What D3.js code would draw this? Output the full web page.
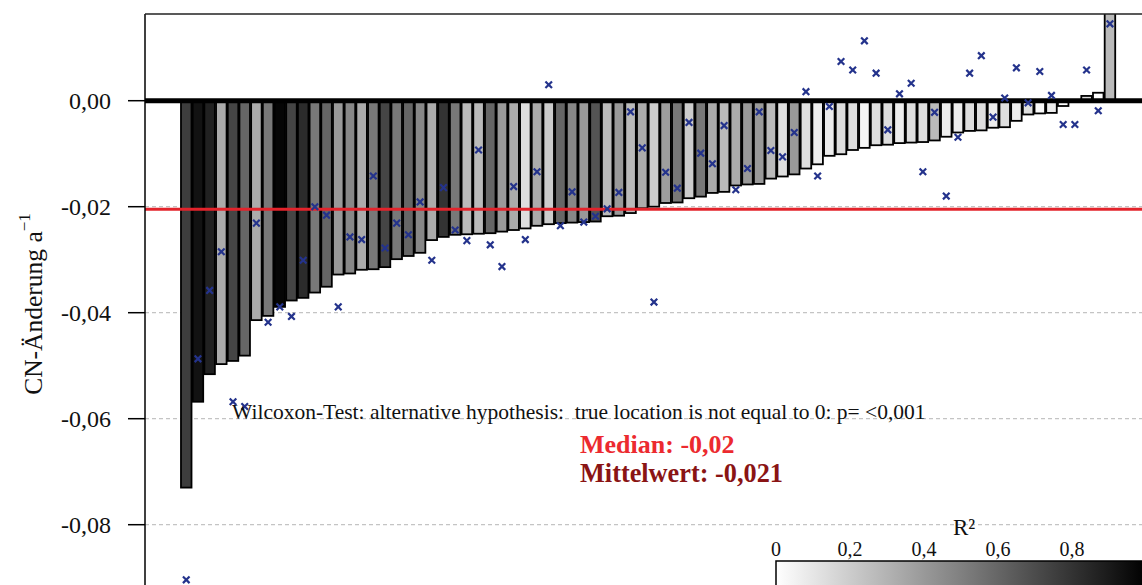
<!DOCTYPE html>
<html>
<head>
<meta charset="utf-8">
<script src="https://cdn.jsdelivr.net/npm/d3@7"></script>
<style>
  html, body { margin: 0; padding: 0; background: #fff; }
  svg { display: block; font-family: "Liberation Serif", "Times New Roman", serif; }
</style>
</head>
<body>
<div id="chart"></div>
<script>
// CN change per site, sorted ascending
const cnChange = [
  -0.0730, -0.0568, -0.0516, -0.0497, -0.0491, -0.0481, -0.0414, -0.0406, -0.0389, -0.0377,
  -0.0372, -0.0362, -0.0351, -0.0328, -0.0326, -0.0319, -0.0318, -0.0314, -0.0299, -0.0293,
  -0.0287, -0.0263, -0.0257, -0.0253, -0.0252, -0.0251, -0.0250, -0.0247, -0.0244, -0.0241,
  -0.0236, -0.0233, -0.0231, -0.0230, -0.0229, -0.0228, -0.0218, -0.0217, -0.0212, -0.0203,
  -0.0200, -0.0193, -0.0192, -0.0184, -0.0181, -0.0174, -0.0172, -0.0160, -0.0158, -0.0157,
  -0.0147, -0.0143, -0.0139, -0.0128, -0.0120, -0.0104, -0.0101, -0.0093, -0.0089, -0.0084,
  -0.0083, -0.0080, -0.0079, -0.0078, -0.0075, -0.0068, -0.0060, -0.0057, -0.0056, -0.0051,
  -0.0050, -0.0038, -0.0026, -0.0024, -0.0023, -0.0010, -0.0002, 0.0009, 0.0015, 0.0180
];

// R² of each site's regression (bar shade)
const rSquared = [
  0.76, 0.93, 0.87, 0.33, 0.73, 0.60, 0.33, 0.53, 0.98, 0.73,
  0.83, 0.53, 0.60, 0.40, 0.47, 0.33, 0.53, 0.73, 0.53, 0.60,
  0.47, 0.33, 0.80, 0.53, 0.27, 0.27, 0.60, 0.40, 0.33, 0.13,
  0.33, 0.20, 0.60, 0.47, 0.40, 0.67, 0.27, 0.40, 0.27, 0.33,
  0.20, 0.38, 0.53, 0.20, 0.53, 0.33, 0.27, 0.33, 0.40, 0.40,
  0.27, 0.13, 0.40, 0.13, 0.07, 0.07, 0.13, 0.13, 0.04, 0.13,
  0.13, 0.07, 0.13, 0.13, 0.27, 0.07, 0.07, 0.13, 0.13, 0.07,
  0.13, 0.07, 0.13, 0.02, 0.07, 0.00, 0.00, 0.13, 0.00, 0.27
];

// blue crosses
const crossValues = [
  -0.0904, -0.0487, -0.0358, -0.0285, -0.0568, -0.0577, -0.0231, -0.0418, -0.0389, -0.0407,
  -0.0301, -0.0200, -0.0216, -0.0389, -0.0257, -0.0262, -0.0142, -0.0278, -0.0231, -0.0253,
  -0.0191, -0.0301, -0.0164, -0.0244, -0.0264, -0.0093, -0.0272, -0.0313, -0.0162, -0.0262,
  -0.0134, 0.0030, -0.0236, -0.0172, -0.0229, -0.0218, -0.0204, -0.0173, -0.0021, -0.0089,
  -0.0380, -0.0135, -0.0165, -0.0041, -0.0099, -0.0119, -0.0047, -0.0168, -0.0128, -0.0021,
  -0.0094, -0.0106, -0.0060, 0.0017, -0.0142, -0.0011, 0.0074, 0.0058, 0.0113, 0.0052,
  -0.0055, 0.0013, 0.0033, -0.0134, -0.0022, -0.0180, -0.0069, 0.0052, 0.0085, -0.0031,
  0.0005, 0.0062, -0.0004, 0.0055, 0.0010, -0.0045, -0.0045, 0.0058, -0.0019, 0.0145
];

const yTicks = [0, -0.02, -0.04, -0.06, -0.08];
const legendTicks = [0, 0.2, 0.4, 0.6, 0.8];
const medianValue = -0.0205;
const medianLabel = 'Median: -0,02';
const meanLabel = 'Mittelwert: -0,021';
const testLabel = 'Wilcoxon-Test: alternative hypothesis:  true location is not equal to 0: p= <0,001';

const width = 1142;
const height = 585;
const plot = { left: 145, top: 14 };

const fmt = v => v.toFixed(2).replace('.', ',');
const fmtLegend = v => (v === 0 ? '0' : v.toFixed(1).replace('.', ','));

const svg = d3.select('#chart')
  .append('svg')
  .attr('width', width)
  .attr('height', height);

const x = d3.scaleBand()
  .domain(d3.range(cnChange.length))
  .range([180.4, 1115.8])
  .paddingInner(0.1)
  .paddingOuter(0.05);

const y = d3.scaleLinear()
  .domain([-0.08, 0])
  .range([524.7, 100.7]);

const shade = d3.scaleLinear()
  .domain([0, 1])
  .range(['#ffffff', '#000000']);

svg.append('clipPath')
  .attr('id', 'plot-clip')
  .append('rect')
  .attr('x', plot.left)
  .attr('y', plot.top)
  .attr('width', width - plot.left + 10)
  .attr('height', height - plot.top + 10);

const g = svg.append('g').attr('clip-path', 'url(#plot-clip)');

// grid
g.selectAll('line.grid')
  .data(yTicks.filter(d => d !== 0))
  .enter()
  .append('line')
  .attr('class', 'grid')
  .attr('x1', plot.left)
  .attr('x2', width)
  .attr('y1', d => y(d))
  .attr('y2', d => y(d))
  .attr('stroke', '#c4c4c4')
  .attr('stroke-width', 1.2)
  .attr('stroke-dasharray', '4,3');

// bars
g.selectAll('rect.bar')
  .data(cnChange)
  .enter()
  .append('rect')
  .attr('class', 'bar')
  .attr('x', (d, i) => x(i))
  .attr('width', x.bandwidth())
  .attr('y', d => y(Math.max(0, d)))
  .attr('height', d => Math.abs(y(d) - y(0)))
  .attr('fill', (d, i) => shade(rSquared[i]))
  .attr('stroke', '#000')
  .attr('stroke-width', 1.8);

// zero line
g.append('line')
  .attr('x1', plot.left)
  .attr('x2', width)
  .attr('y1', y(0))
  .attr('y2', y(0))
  .attr('stroke', '#000')
  .attr('stroke-width', 5);

// median line
g.append('line')
  .attr('x1', plot.left)
  .attr('x2', width)
  .attr('y1', y(medianValue))
  .attr('y2', y(medianValue))
  .attr('stroke', '#e3232b')
  .attr('stroke-width', 3);

// crosses
const cross = d3.symbol().type(d3.symbolX).size(30);
g.selectAll('path.cross')
  .data(crossValues)
  .enter()
  .append('path')
  .attr('class', 'cross')
  .attr('d', cross)
  .attr('transform', (d, i) => `translate(${x(i) + x.bandwidth() / 2},${y(d)})`)
  .attr('fill', 'none')
  .attr('stroke', '#24338c')
  .attr('stroke-width', 2.2);

// frame
svg.append('line')
  .attr('x1', plot.left).attr('x2', plot.left)
  .attr('y1', plot.top).attr('y2', height)
  .attr('stroke', '#000').attr('stroke-width', 1.5);
svg.append('line')
  .attr('x1', plot.left).attr('x2', width)
  .attr('y1', plot.top).attr('y2', plot.top)
  .attr('stroke', '#222').attr('stroke-width', 1.5);

// y axis
const yAxis = svg.append('g');
yAxis.selectAll('line.tick')
  .data(yTicks)
  .enter()
  .append('line')
  .attr('x1', 128)
  .attr('x2', plot.left)
  .attr('y1', d => y(d))
  .attr('y2', d => y(d))
  .attr('stroke', '#000')
  .attr('stroke-width', 1.5);

yAxis.selectAll('text')
  .data(yTicks)
  .enter()
  .append('text')
  .attr('x', 111)
  .attr('y', d => y(d))
  .attr('dy', '0.35em')
  .attr('text-anchor', 'end')
  .style('font-size', '24px')
  .attr('fill', '#111')
  .text(fmt);

const yTitle = svg.append('text')
  .attr('transform', 'translate(42,304) rotate(-90)')
  .attr('text-anchor', 'middle')
  .style('font-size', '25.5px')
  .attr('fill', '#111');
yTitle.append('tspan').text('CN-Änderung a');
yTitle.append('tspan')
  .attr('dy', -12)
  .style('font-size', '17px')
  .text('−1');

// annotations
svg.append('text')
  .attr('x', 232)
  .attr('y', 419)
  .style('font-size', '21.5px')
  .style('white-space', 'pre')
  .attr('fill', '#111')
  .text(testLabel);

svg.append('text')
  .attr('x', 580)
  .attr('y', 453)
  .style('font-size', '26px')
  .style('font-weight', 'bold')
  .attr('fill', '#ec2a2f')
  .text(medianLabel);

svg.append('text')
  .attr('x', 580)
  .attr('y', 482)
  .style('font-size', '26.3px')
  .style('font-weight', 'bold')
  .attr('fill', '#8a1414')
  .text(meanLabel);

// legend
const lx = d3.scaleLinear().domain([0, 1]).range([776, 1146]);
const defs = svg.append('defs');
const grad = defs.append('linearGradient')
  .attr('id', 'r2-grad')
  .attr('x1', '0%').attr('x2', '100%')
  .attr('y1', '0%').attr('y2', '0%');
grad.selectAll('stop')
  .data(d3.range(0, 1.0001, 0.1))
  .enter()
  .append('stop')
  .attr('offset', d => `${d * 100}%`)
  .attr('stop-color', d => shade(d));

svg.append('rect')
  .attr('x', lx(0))
  .attr('y', 561)
  .attr('width', lx(1) - lx(0))
  .attr('height', 40)
  .attr('fill', 'url(#r2-grad)')
  .attr('stroke', '#000')
  .attr('stroke-width', 1.5);

svg.selectAll('text.legend-tick')
  .data(legendTicks)
  .enter()
  .append('text')
  .attr('class', 'legend-tick')
  .attr('x', d => lx(d))
  .attr('y', 556)
  .attr('text-anchor', 'middle')
  .style('font-size', '20px')
  .attr('fill', '#111')
  .text(fmtLegend);

svg.append('text')
  .attr('x', 964)
  .attr('y', 535)
  .attr('text-anchor', 'middle')
  .style('font-size', '23px')
  .attr('fill', '#111')
  .text('R²');
</script>
</body>
</html>
